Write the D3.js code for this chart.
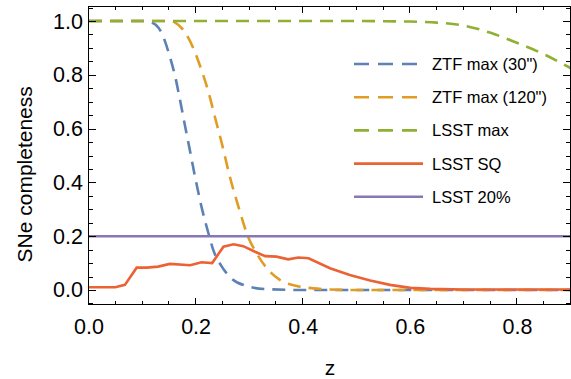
<!DOCTYPE html>
<html lang="en">
<head>
<meta charset="UTF-8">
<title>SNe completeness vs z</title>
<script src="https://d3js.org/d3.v7.min.js"></script>
<style>
  body, html { margin: 0; padding: 0; background: #fff; overflow: hidden; }
  svg { display: block; font-family: "Liberation Sans", Arial, sans-serif; }
  .tick-label { font-size: 21.5px; fill: #000; }
  .axis-title { font-size: 21px; fill: #000; }
  .legend-label { font-size: 16.5px; fill: #000; }
</style>
</head>
<body>
<svg></svg>
<script>
// ---- data ----
const ztf30Z = [0, 0.05, 0.1, 0.111, 0.125, 0.136, 0.151, 0.161, 0.17, 0.179, 0.187, 0.198, 0.21, 0.223, 0.232, 0.248, 0.266, 0.294, 0.332, 0.4, 0.5, 0.9];
const ztf30  = [1, 1, 1, 0.997, 0.985, 0.954, 0.867, 0.793, 0.706, 0.613, 0.533, 0.421, 0.31, 0.211, 0.149, 0.087, 0.043, 0.015, 0.003, 0, 0, 0];

const ztf120Z = [0, 0.1, 0.15, 0.16, 0.176, 0.195, 0.21, 0.223, 0.235, 0.248, 0.263, 0.279, 0.297, 0.313, 0.335, 0.357, 0.388, 0.419, 0.45, 0.5, 0.9];
const ztf120  = [1, 1, 1, 0.995, 0.967, 0.898, 0.818, 0.737, 0.644, 0.545, 0.421, 0.31, 0.198, 0.136, 0.074, 0.037, 0.015, 0.006, 0.002, 0, 0];

const lsstMaxZ = [0, 0.5, 0.55, 0.6, 0.65, 0.7, 0.75, 0.8, 0.85, 0.9];
const lsstMax  = [1, 1, 0.999, 0.998, 0.994, 0.983, 0.956, 0.918, 0.876, 0.824];

const lsstSqZ = [0, 0.049, 0.067, 0.089, 0.108, 0.129, 0.151, 0.189, 0.21, 0.23, 0.251, 0.27, 0.288, 0.31, 0.329, 0.35, 0.372, 0.391, 0.41, 0.45, 0.487, 0.525, 0.562, 0.6, 0.637, 0.7, 0.8, 0.9];
const lsstSq  = [0.01, 0.01, 0.019, 0.083, 0.083, 0.087, 0.097, 0.092, 0.103, 0.1, 0.161, 0.17, 0.163, 0.142, 0.126, 0.124, 0.114, 0.121, 0.118, 0.081, 0.056, 0.035, 0.019, 0.008, 0.004, 0.002, 0.002, 0.002];

const lsst20Z = [0, 0.9];
const lsst20  = [0.2, 0.2];

const seriesNames = ["ZTF max (30\")", "ZTF max (120\")", "LSST max", "LSST SQ", "LSST 20%"];
const seriesColors = ["#5E81B5", "#E19C24", "#8FB032", "#EB6235", "#8778B3"];
const seriesDashed = [true, true, true, false, false];

const xTicks = [0, 0.2, 0.4, 0.6, 0.8];
const yTicks = [0, 0.2, 0.4, 0.6, 0.8, 1.0];

// ---- layout ----
const width = 571, height = 379;
const svg = d3.select("svg").attr("width", width).attr("height", height);

const x = d3.scaleLinear().domain([0, 0.9]).range([89, 571]);
const y = d3.scaleLinear().domain([-0.0558, 1.0558]).range([305, 6]);

const plot = svg.append("g");
plot.append("clipPath").attr("id", "clip")
  .append("rect")
  .attr("x", x(0)).attr("y", y(1.0558))
  .attr("width", x(0.9) - x(0)).attr("height", y(-0.0558) - y(1.0558));

const seriesZ = [ztf30Z, ztf120Z, lsstMaxZ, lsstSqZ, lsst20Z];
const seriesV = [ztf30, ztf120, lsstMax, lsstSq, lsst20];

const lines = plot.append("g").attr("clip-path", "url(#clip)");
seriesZ.forEach((zs, i) => {
  const pts = zs.map((z, j) => [z, seriesV[i][j]]);
  const line = d3.line()
    .x(d => x(d[0])).y(d => y(d[1]))
    .curve(i === 3 ? d3.curveLinear : d3.curveMonotoneX);
  lines.append("path")
    .datum(pts)
    .attr("d", line)
    .attr("fill", "none")
    .attr("stroke", seriesColors[i])
    .attr("stroke-width", 2.6)
    .attr("stroke-dasharray", seriesDashed[i] ? "13,8" : null);
});

// ---- frame and ticks ----
const frame = svg.append("g").attr("stroke", "#000").attr("stroke-width", 1).attr("fill", "none");
frame.append("rect")
  .attr("x", x(0) - 0.5).attr("y", y(1.0558) + 0.5)
  .attr("width", x(0.9) - x(0)).attr("height", y(-0.0558) - y(1.0558) - 1);

const xMinor = d3.range(0, 0.901, 0.05);
const yMinor = d3.range(-0.05, 1.051, 0.05);
const isMajor = (v, list) => list.some(t => Math.abs(t - v) < 1e-6);

xMinor.forEach(v => {
  const len = isMajor(v, xTicks) ? 7 : 4;
  const px = Math.round(x(v)) - 0.5;
  frame.append("line").attr("x1", px).attr("x2", px).attr("y1", y(-0.0558)).attr("y2", y(-0.0558) - len);
  frame.append("line").attr("x1", px).attr("x2", px).attr("y1", y(1.0558)).attr("y2", y(1.0558) + len);
});
yMinor.forEach(v => {
  const len = isMajor(v, yTicks) ? 7 : 4;
  const py = Math.round(y(v)) + 0.5;
  frame.append("line").attr("y1", py).attr("y2", py).attr("x1", x(0)).attr("x2", x(0) + len);
  frame.append("line").attr("y1", py).attr("y2", py).attr("x1", x(0.9) - 1).attr("x2", x(0.9) - 1 - len);
});

svg.append("g").selectAll("text").data(xTicks).join("text")
  .attr("class", "tick-label")
  .attr("x", d => x(d)).attr("y", 334)
  .attr("text-anchor", "middle")
  .text(d => d3.format(".1f")(d));

svg.append("g").selectAll("text").data(yTicks).join("text")
  .attr("class", "tick-label")
  .attr("x", 83).attr("y", d => y(d) + 7.5)
  .attr("text-anchor", "end")
  .text(d => d3.format(".1f")(d));

svg.append("text").attr("class", "axis-title")
  .attr("x", x(0.45)).attr("y", 375)
  .attr("text-anchor", "middle").text("z");

svg.append("text").attr("class", "axis-title")
  .attr("transform", "translate(32," + y(0.43) + ") rotate(-90)")
  .attr("text-anchor", "middle").text("SNe completeness");

// ---- legend ----
const legend = svg.append("g");
seriesNames.forEach((name, i) => {
  const ly = 64 + i * 33.2;
  legend.append("line")
    .attr("x1", 354).attr("x2", 423).attr("y1", ly).attr("y2", ly)
    .attr("stroke", seriesColors[i]).attr("stroke-width", 2.6)
    .attr("stroke-dasharray", seriesDashed[i] ? "15,9" : null);
  legend.append("text").attr("class", "legend-label")
    .attr("x", 432).attr("y", ly + 6)
    .text(name);
});
</script>
</body>
</html>
